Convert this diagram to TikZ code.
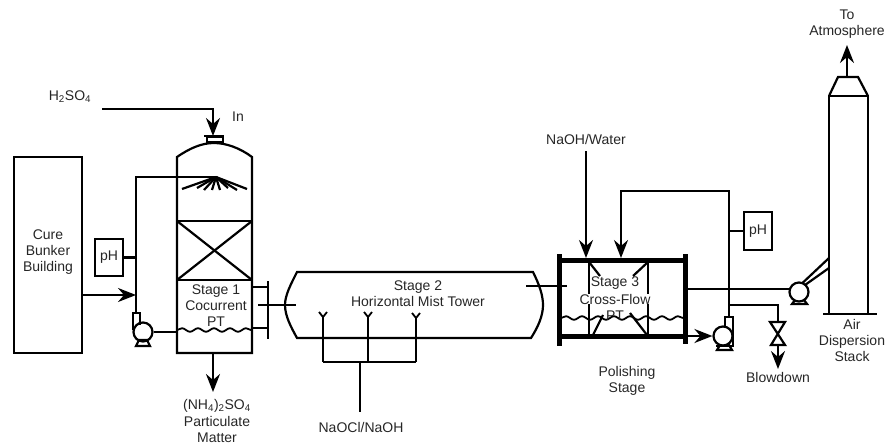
\documentclass[tikz,border=0pt]{standalone}
\usepackage{fontspec}
\setmainfont{Liberation Sans}
\usetikzlibrary{arrows.meta,calc,decorations.pathmorphing}
\begin{document}
\begin{tikzpicture}[
    x=1pt, y=-1pt,
    line width=2.2pt, line join=miter,
    lbl/.style={font=\fontsize{14}{16.3}\selectfont, align=center, inner sep=0pt, text=black!85},
    maskedlbl/.style={lbl, fill=white, inner xsep=1pt, inner ysep=0pt},
    unit/.style={draw, rectangle, inner sep=0pt, outer sep=0pt, anchor=north west},
    pumpbody/.style={draw, circle, fill=white, minimum size=19pt, inner sep=0pt},
    flow/.style={-{Stealth[length=18pt,width=14pt,inset=6pt]}},
    wavy/.style={line width=1.8pt, decorate, decoration={snake, segment length=16pt, amplitude=1.8pt}},
    bar/.style={line width=5pt}
]
\useasboundingbox (0,0) rectangle (885,444);

\node[unit, minimum width=68pt, minimum height=196pt] (cure) at (14,157) {};
\node[lbl] at (48,252) {Cure\\Bunker\\Building};

\coordinate (vesselTL) at (177,157);
\coordinate (vesselTR) at (252,157);
\coordinate (vesselBL) at (177,353);
\coordinate (vesselBR) at (252,353);
\draw (vesselBL) -- (vesselTL) .. controls (190,148) and (202,143) .. (214,143)
      .. controls (226,143) and (240,148) .. (vesselTR) -- (vesselBR) -- cycle;
\node[unit, minimum width=75pt, minimum height=59pt] (packing) at (177,221) {};
\draw (packing.north west) -- (packing.south east);
\draw (packing.north east) -- (packing.south west);
\draw[fill=white] (207,142) rectangle (223,137);
\draw (204,136) -- (224,136);

\coordinate (acidstart) at (102,109);
\coordinate (acidend) at (213,136);
\draw[flow] (acidstart) -| (acidend);
\node[lbl] (acid) at (70,97) {H\textsubscript{2}SO\textsubscript{4}};
\node[lbl] (inlabel) at (238,117) {In};

\coordinate (spray) at (216,177);
\foreach \tipx/\tipy in {182/189, 197/188, 204/190, 212/190, 220/190, 228/188, 237/190, 247/189}
    \draw (spray) -- (\tipx,\tipy);

\node[pumpbody] (pumpA) at (143,332) {};
\draw (133,330) -- (133,313) -- (140,313) -- (140,325);
\draw (136,346) -- (139,340) -- (147,340) -- (150,346) -- cycle;
\draw (spray) -| (136,313);
\draw (pumpA) -- (177,332);

\node[unit, minimum width=28pt, minimum height=37pt] (phA) at (95,239) {};
\node[lbl] at (phA) {pH};
\draw (phA.east) -- (phA.east -| 136,0);
\draw[flow] (cure.east |- 0,295) -- (136,295);

\draw[wavy] (177,330) -- (252,330);
\node[lbl] at (216,305.5) {Stage 1\\Cocurrent\\PT};

\coordinate (sumpout) at (213,353);
\coordinate (sumpend) at (213,392);
\draw[flow] (sumpout) -- (sumpend);
\node[lbl] at (217,421) {(NH\textsubscript{4})\textsubscript{2}SO\textsubscript{4}\\Particulate\\Matter};

\draw (268,281) -- (268,339);
\draw (252,287) -- (268,287);
\draw (252,328) -- (268,328);
\draw (258,305) -- (296,305);

\coordinate (towerTL) at (297,272);
\coordinate (towerTR) at (533,272);
\coordinate (towerBL) at (297,338);
\coordinate (towerBR) at (531,338);
\draw (towerTL) -- (towerTR) .. controls (539,284) and (543,295) .. (543,305)
      .. controls (543,316) and (538,327) .. (towerBR) -- (towerBL)
      .. controls (291,327) and (285,316) .. (285,305)
      .. controls (285,295) and (291,284) .. cycle;
\node[lbl] at (418,293.5) {Stage 2\\Horizontal Mist Tower};

\coordinate (causticA) at (323,317);
\coordinate (causticB) at (368,317);
\coordinate (causticC) at (416,318);
\coordinate (causticbus) at (360,362);
\coordinate (causticend) at (360,412);
\foreach \nozzle in {causticA,causticB,causticC} {
    \draw (\nozzle) -- (\nozzle |- causticbus);
    \draw[line width=1.8pt] ($(\nozzle)+(-4,-5)$) -- (\nozzle) -- ($(\nozzle)+(4,-5)$);
}
\draw (causticA |- causticbus) -- (causticC |- causticbus);
\draw (causticbus) -- (causticend);
\node[lbl] at (361,427) {NaOCl/NaOH};

\coordinate (stageTL) at (559,260);
\coordinate (stageTR) at (685,260);
\coordinate (stageBL) at (559,336);
\coordinate (stageBR) at (685,336);
\draw (589,260) -- (589,336);
\draw (648,260) -- (648,336);
\draw (589,262) -- (600,276);
\draw (648,262) -- (633,276);
\draw (593,335) -- (603,315);
\draw (647,335) -- (630,313);
\node[maskedlbl] (stagethree) at (615,283) {Stage 3};
\node[maskedlbl] (crossflow) at (615,299) {Cross-Flow};
\draw[wavy] (561,318) -- (683,318);
\node[lbl] (ptthree) at (615,316) {PT};
\draw[bar] (stageTL) -- (stageTR);
\draw[bar] (stageBL) -- (stageBR);
\draw[bar] (559,254) -- (559,346);
\draw[bar] (685,254) -- (685,344);
\draw (526,286) -- (567,286);

\coordinate (causticin) at (586,151);
\coordinate (causticout) at (586,258);
\draw[flow] (causticin) -- (causticout);
\node[lbl] at (586,139) {NaOH/Water};

\draw (725,328) -- (725,317) -- (733,317) -- (733,346) -- (716,346);
\draw (717,350) -- (720,345) -- (729,345) -- (732,350) -- cycle;
\node[pumpbody] (pumpB) at (723,336) {};
\draw[flow] (stageBR) -- (pumpB.west);

\coordinate (returnstart) at (729,317);
\coordinate (returnend) at (621,258);
\draw[flow] (returnstart) -- (729,191) -| (returnend);
\node[unit, minimum width=28pt, minimum height=38pt] (phB) at (744,212) {};
\node[lbl] at (phB) {pH};
\draw (phB.west) -- (phB.west -| returnstart);

\draw (795,290) -- (829,258);
\draw (805,285) -- (829,268);
\draw (792,304) -- (795,300) -- (804,300) -- (807,304) -- cycle;
\node[pumpbody] (fan) at (799,292) {};
\draw (685,289) -- (790,289);

\coordinate (bleedstart) at (729,305);
\coordinate (valvetop) at (778,322);
\coordinate (valvebot) at (778,345);
\coordinate (bleedend) at (778,369);
\draw (bleedstart) -| (valvetop);
\draw (770,322) -- (785,322) -- (771,345) -- (785,345) -- cycle;
\draw[flow] (valvebot) -- (bleedend);
\node[lbl] at (778,377) {Blowdown};
\node[lbl] at (627,381) {Polishing\\Stage};

\node[unit, minimum width=39pt, minimum height=218pt] (stack) at (829,96) {};
\draw (stack.north west) -- (838,77) -- (858,77) -- (stack.north east);
\draw (823,314) -- (877,314);
\coordinate (stacktop) at (847,77);
\coordinate (stackend) at (847,45);
\draw[flow] (stacktop) -- (stackend);
\node[lbl] at (847,24) {To\\Atmosphere};
\node[lbl] at (852,340.5) {Air\\Dispersion\\Stack};
\end{tikzpicture}
\end{document}
